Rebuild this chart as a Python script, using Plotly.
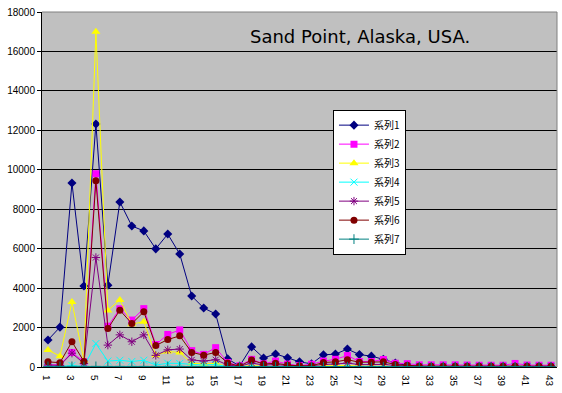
import plotly.graph_objects as go

categories = list(range(1, 44))
tick_labels = [str(i) for i in range(1, 44, 2)]

series_names = ["系列1", "系列2", "系列3", "系列4", "系列5", "系列6", "系列7"]

s1 = [1370, 2020, 9330, 4110, 12320, 4150, 8370, 7150, 6900, 5990,
      6740, 5730, 3600, 2990, 2690, 410, 50, 1020, 460, 660,
      470, 260, 160, 615, 655, 910, 630, 550, 390, 200,
      90, 40, 30, 30, 30, 30, 30, 30, 30, 30, 30, 30, 30]
s2 = [100, 120, 740, 270, 9800, 2070, 2950, 2380, 2960, 1140,
      1650, 1880, 830, 640, 980, 230, 60, 390, 160, 300,
      145, 70, 140, 300, 390, 580, 280, 280, 380, 190,
      170, 110, 110, 110, 110, 100, 90, 90, 90, 180, 100, 90, 90]
s3 = [860, 550, 3300, 330, 17000, 2870, 3400, 2170, 2300, 600,
      780, 740, 190, 160, 190, 20, 10, 80, 30, 40,
      30, 20, 20, 60, 60, 80, 40, 40, 40, 20,
      10, 10, 10, 10, 10, 10, 10, 10, 10, 10, 10, 10, 10]
s4 = [20, 20, 80, 20, 1190, 300, 340, 280, 340, 100,
      190, 180, 130, 100, 130, 20, 10, 30, 20, 20,
      20, 10, 10, 20, 20, 20, 20, 20, 20, 10,
      10, 10, 10, 10, 10, 10, 10, 10, 10, 10, 10, 10, 10]
s5 = [100, 80, 700, 180, 5550, 1110, 1630, 1280, 1630, 590,
      870, 910, 360, 300, 370, 100, 40, 200, 100, 120,
      80, 50, 60, 130, 150, 200, 120, 120, 130, 80,
      50, 30, 30, 30, 30, 30, 30, 30, 30, 30, 30, 30, 30]
s6 = [260, 220, 1280, 280, 9450, 1950, 2880, 2200, 2800, 1090,
      1390, 1580, 740, 600, 740, 200, 40, 350, 150, 190,
      100, 60, 60, 230, 260, 370, 240, 240, 260, 130,
      90, 40, 40, 40, 40, 40, 40, 40, 40, 40, 40, 40, 40]
s7 = [30, 30, 30, 30, 30, 30, 30, 30, 30, 30,
      30, 30, 30, 30, 30, 10, 10, 10, 10, 10,
      10, 10, 10, 10, 10, 10, 10, 10, 10, 10,
      10, 10, 10, 10, 10, 10, 10, 10, 10, 10, 10, 10, 10]

all_series = [s1, s2, s3, s4, s5, s6, s7]
colors = ["#000080", "#FF00FF", "#FFFF00", "#00FFFF", "#800080", "#800000", "#008080"]
symbols = ["diamond", "square", "triangle-up", "x-thin-open", "asterisk-open", "circle", "cross-thin-open"]
sizes = [7, 7, 8, 7, 7, 7, 7]

fig = go.Figure()
for name, vals, col, sym, sz in zip(series_names, all_series, colors, symbols, sizes):
    open_sym = sym.endswith("-open")
    fig.add_trace(go.Scatter(
        x=categories, y=vals, name=name, mode="lines+markers",
        line=dict(color=col, width=1),
        marker=dict(symbol=sym, size=sz, color=col,
                    line=dict(color=col, width=1 if open_sym else 0)),
    ))

fig.update_layout(
    width=562, height=393,
    margin=dict(l=42, r=5, t=12, b=26, autoexpand=False),
    paper_bgcolor="white",
    plot_bgcolor="#C0C0C0",
    font=dict(family="Liberation Sans, Arial, sans-serif", size=10, color="black"),
    showlegend=True,
    legend=dict(
        x=0.565, y=0.725, xanchor="left", yanchor="top",
        bgcolor="white", bordercolor="black", borderwidth=1,
        font=dict(family="Noto Sans CJK JP", size=10, color="black"),
        tracegroupgap=0, itemwidth=30,
    ),
    xaxis=dict(
        range=[0.5, 43.5], tickmode="array",
        tickvals=list(range(1, 44, 2)), ticktext=tick_labels,
        tickangle=89.9, showgrid=False, zeroline=False,
        showline=True, linecolor="black", linewidth=1,
        ticks="", tickfont=dict(size=10), automargin=False,
    ),
    yaxis=dict(
        range=[0, 18000], dtick=2000, tickformat="d", showgrid=True,
        gridcolor="black", gridwidth=1, zeroline=False,
        showline=True, linecolor="black", linewidth=1,
        ticks="outside", ticklen=4, tickcolor="black",
        tickfont=dict(size=10), automargin=False,
    ),
    shapes=[
        dict(type="line", xref="paper", yref="paper", x0=0, x1=1, y0=1, y1=1,
             line=dict(color="#808080", width=1)),
        dict(type="line", xref="paper", yref="paper", x0=1, x1=1, y0=0, y1=1,
             line=dict(color="#808080", width=1)),
    ],
    annotations=[
        dict(text="Sand Point, Alaska, USA.", xref="paper", yref="paper",
             x=0.617, y=0.93, xanchor="center", yanchor="middle",
             showarrow=False,
             font=dict(family="DejaVu Sans, sans-serif", size=18, color="black")),
    ],
)

fig.write_html(
    "out.html",
    config={"displayModeBar": False},
    post_script="document.body.style.margin='0';document.body.style.overflow='hidden';",
)
